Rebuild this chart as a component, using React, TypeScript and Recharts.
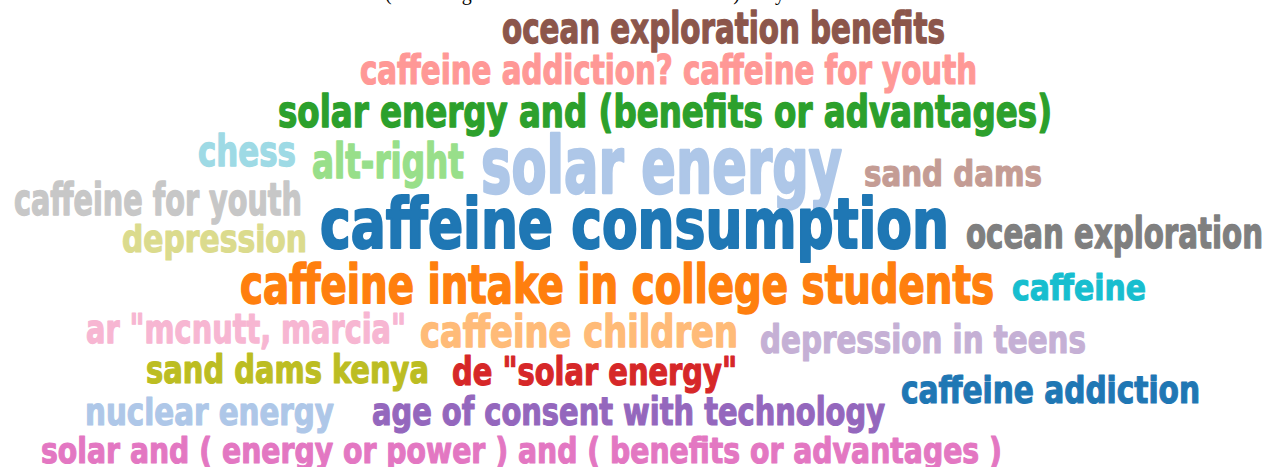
import { ScatterChart, Scatter, XAxis, YAxis, ZAxis } from 'recharts'

const W = 1269
const H = 467

// search terms, in the order the cloud lays them out
const words = [
  'ocean exploration benefits',
  'caffeine addiction? caffeine for youth',
  'solar energy and (benefits or advantages)',
  'chess',
  'alt-right',
  'solar energy',
  'sand dams',
  'caffeine for youth',
  'depression',
  'caffeine consumption',
  'ocean exploration',
  'caffeine intake in college students',
  'caffeine',
  'ar "mcnutt, marcia"',
  'caffeine children',
  'depression in teens',
  'sand dams kenya',
  'de "solar energy"',
  'caffeine addiction',
  'nuclear energy',
  'age of consent with technology',
  'solar and ( energy or power ) and ( benefits or advantages )',
]

// relative weight of each term (drives the font size)
const counts = [31, 29, 32, 31, 35, 56, 26, 32, 27, 50, 31, 38, 26, 30, 32, 28, 28, 28, 27, 27, 28, 26]

const colors = [
  '#8c564b', '#ff9896', '#2ca02c', '#9edae5', '#98df8a', '#aec7e8', '#c49c94', '#c7c7c7',
  '#dbdb8d', '#1f77b4', '#7f7f7f', '#ff7f0e', '#17becf', '#f7b6d2', '#ffbb78', '#c5b0d5',
  '#bcbd22', '#d62728', '#1f77b4', '#aec7e8', '#9467bd', '#e377c2',
]

// cloud layout: left / right edge and baseline of each word
const lefts = [502, 360, 278, 198, 312, 481, 864, 14, 122, 320, 966, 240, 1012, 86, 420, 760, 146, 452, 901, 85, 372, 41]
const rights = [945, 977, 1052, 296, 464, 842, 1042, 302, 307, 949, 1263, 994, 1146, 406, 738, 1086, 429, 737, 1200, 334, 885, 1002]
const baselines = [43, 84, 127, 166, 178, 193, 186, 215, 252, 248, 248, 303, 300, 343, 347, 353, 383, 385, 403, 425, 425, 463]

const data = words.map((word, i) => ({
  word,
  count: counts[i],
  color: colors[i],
  x: (lefts[i] + rights[i]) / 2,
  y: baselines[i],
  span: rights[i] - lefts[i],
}))

const FONT = "'Liberation Sans Narrow', 'DejaVu Sans Condensed', 'Liberation Sans', sans-serif"

function Word(props: any) {
  const { cx, cy, size, payload } = props
  const fs = typeof size === 'number' && size > 0 ? size : payload.count / 0.72
  return (
    <text
      x={cx}
      y={cy}
      textAnchor="middle"
      fontFamily={FONT}
      fontWeight={700}
      fontSize={fs}
      fill={payload.color}
      stroke={payload.color}
      strokeWidth={fs * 0.03}
      strokeLinejoin="round"
      textLength={payload.span}
      lengthAdjust="spacingAndGlyphs"
    >
      {payload.word}
    </text>
  )
}

export default function App() {
  return (
    <div style={{ position: 'absolute', left: 0, top: 0, width: W, height: H, overflow: 'hidden', background: '#fff' }}>
      <div
        style={{
          position: 'absolute',
          left: 385,
          top: -18,
          fontFamily: "'Liberation Serif', serif",
          fontSize: 20,
          lineHeight: '23px',
          color: '#000',
          whiteSpace: 'nowrap',
        }}
      >
        (Searching the most common archive terms) daily
      </div>
      <ScatterChart width={W} height={H} margin={{ top: 0, right: 0, bottom: 0, left: 0 }}>
        <XAxis type="number" dataKey="x" domain={[0, W]} hide />
        <YAxis type="number" dataKey="y" domain={[0, H]} reversed hide />
        <ZAxis type="number" dataKey="count" domain={[0, 72]} range={[0, 100]} />
        <Scatter data={data} shape={<Word />} isAnimationActive={false} />
      </ScatterChart>
    </div>
  )
}
